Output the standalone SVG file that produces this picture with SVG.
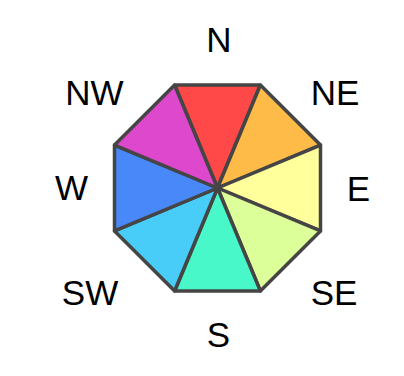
<svg xmlns="http://www.w3.org/2000/svg" width="404" height="376" viewBox="0 0 404 376">
<style>
.w{stroke:#454545;stroke-width:3.5;stroke-linejoin:round}
.t{font-family:"Liberation Sans",Arial,sans-serif;font-size:35px;fill:#000;text-anchor:middle}
</style>
<rect width="404" height="376" fill="#fff"/>
<g id="N"><polygon class="w" fill="#ff4848" points="217.5,188 174.6,85 260.4,85"/><text class="t" x="219" y="52">N</text></g>
<g id="NE"><polygon class="w" fill="#ffbb48" points="217.5,188 260.4,85 320.5,145.1"/><text class="t" x="335" y="105">NE</text></g>
<g id="E"><polygon class="w" fill="#ffff9c" points="217.5,188 320.5,145.1 320.5,230.9"/><text class="t" x="358.5" y="201">E</text></g>
<g id="SE"><polygon class="w" fill="#ddff99" points="217.5,188 320.5,230.9 260.4,291"/><text class="t" x="334" y="305">SE</text></g>
<g id="S"><polygon class="w" fill="#48f8c8" points="217.5,188 260.4,291 174.6,291"/><text class="t" x="218.5" y="347">S</text></g>
<g id="SW"><polygon class="w" fill="#48ccf8" points="217.5,188 174.6,291 114.5,230.9"/><text class="t" x="90" y="305">SW</text></g>
<g id="W"><polygon class="w" fill="#4888f8" points="217.5,188 114.5,230.9 114.5,145.1"/><text class="t" x="71.5" y="200">W</text></g>
<g id="NW"><polygon class="w" fill="#dd48cc" points="217.5,188 114.5,145.1 174.6,85"/><text class="t" x="94.5" y="105">NW</text></g>
<g id="connectors"></g>
</svg>
